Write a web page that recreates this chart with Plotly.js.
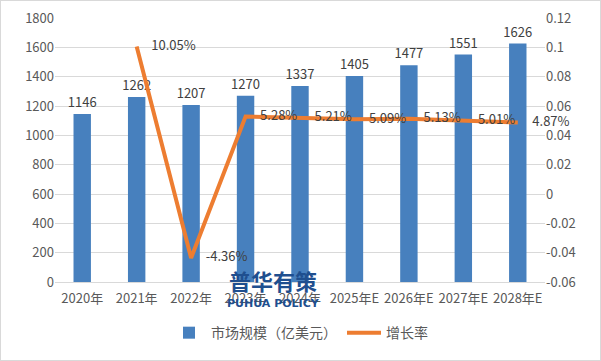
<!DOCTYPE html>
<html>
<head>
<meta charset="utf-8">
<script src="https://cdn.plot.ly/plotly-3.0.1.min.js"></script>
<style>
html,body{margin:0;padding:0;background:#fff;}
#chart{width:599px;height:359px;border:1px solid #d9d9d9;}
</style>
</head>
<body>
<div id="chart"></div>
<script>
var categories = ["2020年","2021年","2022年","2023年","2024年","2025年E","2026年E","2027年E","2028年E"];
var marketSize = [1146,1262,1207,1270,1337,1405,1477,1551,1626];
var growthCats = ["2021年","2022年","2023年","2024年","2025年E","2026年E","2027年E","2028年E"];
var growthRate = [0.1005,-0.0436,0.0528,0.0521,0.0509,0.0513,0.0501,0.0487];
var growthLabels = ["10.05%","-4.36%","5.28%","5.21%","5.09%","5.13%","5.01%","4.87%"];
var leftTicks = [0,200,400,600,800,1000,1200,1400,1600,1800];
var rightTicks = [-0.06,-0.04,-0.02,0,0.02,0.04,0.06,0.08,0.1,0.12];
var rightTickText = ["-0.06","-0.04","-0.02","0","0.02","0.04","0.06","0.08","0.1","0.12"];

var font = "Noto Sans CJK SC, Noto Sans, sans-serif";

var traces = [
  {
    type: "bar",
    name: "市场规模（亿美元）",
    x: categories,
    y: marketSize,
    text: marketSize.map(String),
    textposition: "outside",
    constraintext: "none",
    cliponaxis: false,
    textfont: {size: 13, color: "#404040", family: font},
    marker: {color: "#4780be"},
    width: 0.32,
    yaxis: "y"
  },
  {
    type: "scatter",
    mode: "lines+text",
    name: "增长率",
    x: growthCats,
    y: growthRate,
    text: growthLabels.map(function(s){return "\u00a0\u00a0\u00a0\u00a0\u00a0" + s;}),
    textposition: "middle right",
    textfont: {size: 13, color: "#404040", family: font},
    line: {color: "#ed7d31", width: 4},
    yaxis: "y2",
    cliponaxis: false
  }
];

var layout = {
  width: 599,
  height: 359,
  margin: {l: 54, r: 55, t: 17, b: 78},
  paper_bgcolor: "#ffffff",
  plot_bgcolor: "#ffffff",
  font: {family: font, size: 12, color: "#595959"},
  showlegend: true,
  legend: {orientation: "h", x: 0.5, xanchor: "center", yref: "container", y: 0.075, yanchor: "middle",
           font: {size: 14, color: "#595959", family: font}, itemwidth: 34},
  xaxis: {
    type: "category",
    tickfont: {size: 13, color: "#595959", family: font},
    showgrid: false,
    showline: true,
    linecolor: "#d9d9d9",
    ticks: "",
    ticklabelstandoff: 4,
    zeroline: false,
    automargin: false
  },
  yaxis: {
    range: [0, 1800],
    tickvals: leftTicks,
    showgrid: true,
    gridcolor: "#d9d9d9",
    zeroline: false,
    showline: false,
    ticks: "",
    automargin: false,
    tickfont: {size: 13, color: "#595959", family: font}
  },
  yaxis2: {
    overlaying: "y",
    side: "right",
    range: [-0.06, 0.12],
    tickvals: rightTicks,
    ticktext: rightTickText,
    showgrid: false,
    zeroline: false,
    showline: false,
    ticks: "",
    automargin: false,
    tickfont: {size: 13, color: "#595959", family: font}
  },
  annotations: [
    {xref: "paper", yref: "paper", x: 0.445, y: 0.008, xanchor: "center", yanchor: "middle",
     text: "<b>普华有策</b>", showarrow: false,
     font: {size: 22, color: "#1f4f8f", family: font}},
    {xref: "paper", yref: "paper", x: 0.445, y: -0.08, xanchor: "center", yanchor: "middle",
     text: "<b>PUHUA POLICY</b>", showarrow: false,
     font: {size: 11, color: "#1f4f8f", family: "DejaVu Sans, sans-serif"}}
  ]
};

Plotly.newPlot("chart", traces, layout, {displayModeBar: false, staticPlot: true});
</script>
</body>
</html>
